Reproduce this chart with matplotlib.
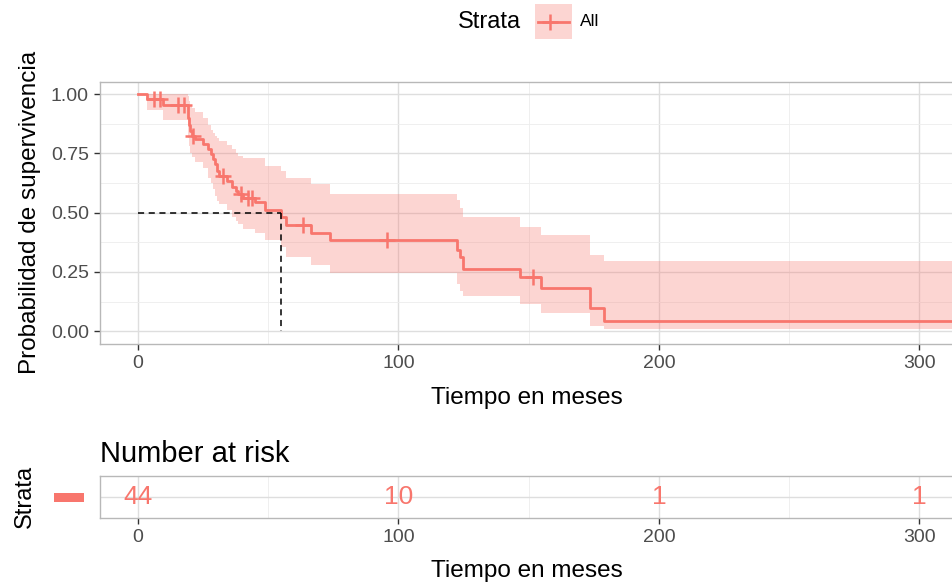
import numpy as np
import matplotlib
matplotlib.use('Agg')
import matplotlib.pyplot as plt
from matplotlib.patches import Rectangle
from matplotlib.lines import Line2D
from matplotlib.ticker import MultipleLocator

plt.rcParams['font.family'] = ['Liberation Sans', 'DejaVu Sans']

# Kaplan-Meier steps (time in months, survival, 95% band)
step_t = [0, 3.5, 9.5, 19.0, 19.3, 19.6, 20.0, 20.6, 22.0, 25.1, 27.0, 28.0, 28.8,
          29.6, 30.2, 31.0, 34.0, 36.0, 37.5, 38.5, 40.4, 44.9, 48.8, 55.0, 57.0,
          66.3, 73.7, 122.3, 123.6, 124.9, 146.6, 154.6, 173.5, 178.9]
surv = [1.000, 0.977, 0.952, 0.925, 0.898, 0.871, 0.845, 0.823, 0.809, 0.788, 0.767,
        0.746, 0.725, 0.704, 0.676, 0.656, 0.635, 0.607, 0.593, 0.579, 0.562, 0.544,
        0.512, 0.481, 0.447, 0.415, 0.384, 0.342, 0.314, 0.263, 0.228, 0.182, 0.096,
        0.043]
lower = [1.000, 0.934, 0.892, 0.852, 0.815, 0.782, 0.752, 0.735, 0.715, 0.690, 0.648,
         0.625, 0.600, 0.572, 0.550, 0.537, 0.509, 0.481, 0.465, 0.454, 0.430, 0.412,
         0.385, 0.356, 0.314, 0.280, 0.245, 0.200, 0.170, 0.147, 0.113, 0.078, 0.022,
         0.008]
upper = [1.000, 1.000, 1.000, 1.000, 0.990, 0.970, 0.950, 0.941, 0.925, 0.899, 0.870,
         0.850, 0.835, 0.823, 0.815, 0.800, 0.785, 0.767, 0.750, 0.740, 0.732, 0.732,
         0.697, 0.676, 0.648, 0.621, 0.579, 0.555, 0.520, 0.481, 0.440, 0.405, 0.321,
         0.298]
last_followup = 330
censor_t = [6.0, 8.5, 15.5, 17.5, 21.0, 32.5, 39.5, 42.3, 43.6, 63.5, 95.5, 151.7]
median_t = 55.0

risk_times = [0, 100, 200, 300]
risk_counts = [44, 10, 1, 1]

red = '#F8766D'
grid_major = '#DEDEDE'
grid_minor = '#EDEDED'
tick_col = '#4D4D4D'

t_ext = np.append(step_t, last_followup)
s_ext = np.append(surv, surv[-1])
lo_ext = np.append(lower, lower[-1])
hi_ext = np.append(upper, upper[-1])
idx = np.searchsorted(step_t, censor_t, side='right') - 1
censor_s = np.array(surv)[idx]

xlim = (-14.6, 312.9)


def style_axes(ax):
    ax.set_xlim(*xlim)
    ax.xaxis.set_major_locator(MultipleLocator(100))
    ax.xaxis.set_minor_locator(MultipleLocator(50))
    ax.grid(which='major', color=grid_major, lw=1.0)
    ax.grid(which='minor', color=grid_minor, lw=0.6)
    ax.set_axisbelow(True)
    for side in ['left', 'top', 'bottom']:
        ax.spines[side].set_color('#B8B8B8')
        ax.spines[side].set_linewidth(1.0)
    ax.spines['right'].set_visible(False)
    ax.tick_params(which='major', length=4, width=1, color='#333333',
                   labelcolor=tick_col, labelsize=14, pad=4)
    ax.tick_params(which='minor', length=0)


fig = plt.figure(figsize=(9.53, 5.88), dpi=100)

# main survival panel
ax = fig.add_axes([100 / 953, 1 - 344 / 588, 853 / 953, 262.3 / 588])
style_axes(ax)
ax.set_ylim(-0.054, 1.052)
ax.set_yticks([0, 0.25, 0.5, 0.75, 1.0])
ax.set_yticklabels(['0.00', '0.25', '0.50', '0.75', '1.00'])
ax.yaxis.set_minor_locator(MultipleLocator(0.125))

ax.fill_between(t_ext, lo_ext, hi_ext, step='post', color=red, alpha=0.3, lw=0)
ax.step(t_ext, s_ext, where='post', color=red, lw=2)
ax.plot(censor_t, censor_s, '+', color=red, ms=12, mew=1.8)
ax.plot([0, median_t], [0.5, 0.5], color='black', lw=1.1, ls=(0, (4, 3)))
ax.plot([median_t, median_t], [0.5, 0], color='black', lw=1.1, ls=(0, (4, 3)))

ax.set_xlabel('Tiempo en meses', fontsize=17.5)
ax.xaxis.set_label_coords(0.5 - 0.0, -0.206)
ax.xaxis.label.set_va('center')
ax.set_ylabel('Probabilidad de supervivencia', fontsize=17.5)
ax.yaxis.set_label_coords(-0.082, 0.5)
ax.yaxis.label.set_va('center')

# risk table
ax2 = fig.add_axes([100 / 953, 1 - 517.7 / 588, 853 / 953, 42 / 588])
style_axes(ax2)
ax2.set_ylim(0.5, 1.5)
ax2.set_yticks([1])
ax2.tick_params(axis='y', length=0, labelleft=False)
for t, n in zip(risk_times, risk_counts):
    ax2.text(t, 1, str(n), color=red, fontsize=19, ha='center', va='center')
ax2.set_title('Number at risk', loc='left', fontsize=21, pad=10)
ax2.set_xlabel('Tiempo en meses', fontsize=17.5)
ax2.xaxis.set_label_coords(0.5, -1.27)
ax2.xaxis.label.set_va('center')
ax2.set_ylabel('Strata', fontsize=17)
ax2.yaxis.set_label_coords(-0.088, 0.5)
ax2.yaxis.label.set_va('center')
fig.patches.append(Rectangle((54 / 953, 1 - 502 / 588), 30 / 953, 9 / 588,
                             transform=fig.transFigure, color=red, lw=0))

# legend on top
fig.text(458 / 953, 1 - 22 / 588, 'Strata', fontsize=17, ha='left', va='center')
fig.patches.append(Rectangle((535 / 953, 1 - 39 / 588), 37 / 953, 35 / 588,
                             transform=fig.transFigure, color=red, alpha=0.3, lw=0))
fig.lines.append(Line2D([538 / 953, 569 / 953], [1 - 22 / 588, 1 - 22 / 588],
                        transform=fig.transFigure, color=red, lw=2))
fig.lines.append(Line2D([550 / 953], [1 - 22 / 588], transform=fig.transFigure,
                        color=red, marker='+', ms=12, mew=1.8, lw=0))
fig.text(580 / 953, 1 - 22 / 588, 'All', fontsize=12.5, ha='left', va='center')

fig.savefig('out.png', dpi=100)
